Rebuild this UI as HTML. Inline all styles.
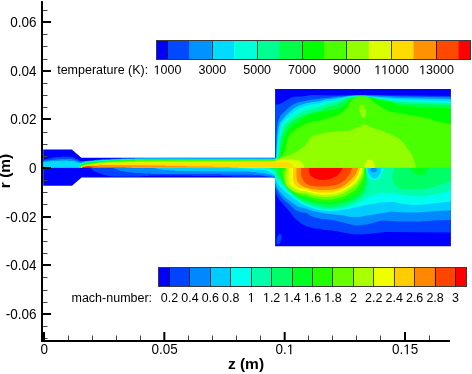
<!DOCTYPE html>
<html><head><meta charset="utf-8"><style>
html,body{margin:0;padding:0;background:#fff;}
body{width:472px;height:374px;overflow:hidden;}
svg{display:block;will-change:transform;}
text{font-family:"Liberation Sans",sans-serif;fill:#000;opacity:0.999;}
.tk{font-size:13.5px;}
.lg{font-size:12.5px;}
.ax{font-size:15.5px;font-weight:bold;}
</style></head><body>
<svg width="472" height="374" viewBox="0 0 472 374">
<rect width="472" height="374" fill="#fff"/>
<g id="contour">
<defs><clipPath id="cUP"><path d="M43.2 167.7L43.2 149.6L71.8 149.6L81.4 157.7L275.1 157.7L275.1 167.7Z"/></clipPath><clipPath id="cUC"><path d="M275.1 88.9L450.9 88.9L450.9 167.7L275.1 167.7Z"/></clipPath><clipPath id="cLP"><path d="M43.2 166.7L275.1 166.7L275.1 177.6L81.6 177.6L72 185.7L43.2 185.7Z"/></clipPath><clipPath id="cLC"><path d="M275.1 166.7L450.9 166.7L450.9 246.3L275.1 246.3Z"/></clipPath></defs>
<g clip-path="url(#cLP)"><path d="M40.1 165.1L40.1 187.9L279.9 187.9L279.9 165.1Z" fill="#0000ff" fill-rule="evenodd"/>
<path d="M90.4 165.1L90.4 167.6L90.9 168.6L94.6 171.6L101.1 174.1L102.9 174.4L104.6 175.1L105.6 175.1L108.1 176.1L113.1 176.4L113.4 176.6L134.9 176.6L135.1 176.4L140.4 176.4L140.6 176.1L148.9 175.9L149.1 175.6L191.9 175.6L192.1 175.9L213.4 175.9L213.6 176.1L231.6 176.1L231.9 176.4L259.4 176.4L259.6 176.6L265.6 176.6L265.9 176.9L271.1 177.1L273.6 177.6L276.1 178.6L276.1 165.1Z" fill="#0044ff" fill-rule="evenodd"/>
<path d="M112.4 165.4L112.4 167.6L115.4 169.1L116.1 169.1L120.6 170.9L122.1 170.9L123.1 171.4L125.9 171.6L126.1 171.9L133.4 172.4L135.1 172.9L142.1 173.1L144.4 173.6L151.4 173.6L151.6 173.9L195.1 173.9L195.4 174.1L221.1 174.1L221.4 174.4L252.9 174.6L253.1 174.9L257.6 174.9L257.9 175.1L262.6 175.4L265.1 175.9L267.9 175.9L269.1 176.4L271.4 176.6L272.4 177.1L273.6 177.1L276.1 178.1L276.1 165.1L112.6 165.1Z" fill="#0088ff" fill-rule="evenodd"/>
<path d="M153.9 166.4L154.1 167.6L157.4 168.9L159.1 168.9L160.4 169.4L162.4 169.4L163.9 169.9L169.4 170.1L169.6 170.4L174.6 170.6L174.9 170.9L179.4 170.9L179.6 171.1L234.6 171.4L234.9 171.6L249.1 171.6L249.4 171.9L256.1 172.1L256.4 172.4L258.9 172.4L260.4 172.9L262.6 172.9L264.1 173.4L266.1 173.4L267.1 173.9L271.4 174.9L276.1 177.1L276.1 165.1L154.4 165.1Z" fill="#00ccff" fill-rule="evenodd"/>
<path d="M216.1 166.4L216.1 167.4L217.9 168.1L239.4 168.4L239.6 168.6L252.4 169.1L254.4 169.6L263.4 170.1L267.4 170.9L269.1 171.9L269.6 171.9L272.6 173.4L276.1 176.1L276.1 165.1L216.9 165.1Z" fill="#00ffee" fill-rule="evenodd"/>
<path d="M261.9 165.1L261.6 167.4L262.1 167.9L264.6 168.1L264.9 168.4L267.4 168.4L268.6 168.9L269.6 168.9L270.1 169.4L270.9 169.4L273.6 171.1L276.1 174.1L276.1 165.1Z" fill="#00ffaa" fill-rule="evenodd"/>
<path d="M268.9 165.1L268.9 167.6L269.4 168.1L271.6 168.4L274.1 169.6L276.1 172.1L276.1 165.1Z" fill="#00ff66" fill-rule="evenodd"/></g>
<g clip-path="url(#cLC)"><path d="M272.1 164.1L272.1 248.9L453.9 248.9L453.9 164.1Z" fill="#0000ff" fill-rule="evenodd"/>
<path d="M280.6 233.9L279.1 234.1L277.9 235.6L276.6 239.1L276.4 242.1L276.6 243.6L277.4 244.4L278.6 244.4L279.6 243.4L281.4 239.1L281.6 235.9ZM272.1 164.9L272.1 191.4L274.1 191.1L275.4 191.9L277.4 196.9L278.9 199.4L289.1 211.1L294.4 217.9L300.9 223.4L306.9 226.4L314.6 228.4L320.4 228.9L324.6 229.9L331.9 230.6L354.4 234.4L368.6 233.9L385.1 232.1L451.4 232.4L452.9 233.4L453.9 235.1L453.9 164.9L427.9 164.9L427.1 164.1L413.1 164.1L412.4 164.9L383.1 164.9L382.6 164.1L366.4 164.1L365.9 164.9Z" fill="#0044ff" fill-rule="evenodd"/>
<path d="M272.1 164.9L272.1 186.4L274.6 186.6L275.9 187.9L277.9 192.4L282.1 198.1L284.4 200.4L287.9 202.9L295.1 209.9L301.6 212.4L306.4 213.1L310.1 215.6L313.6 216.9L321.9 218.9L325.6 218.9L337.4 220.9L352.9 225.1L356.1 225.4L366.9 224.4L381.9 220.6L392.1 220.9L400.1 221.6L419.6 221.6L432.9 220.6L451.6 220.1L452.4 220.4L453.9 222.4L453.9 164.9L427.9 164.9L427.1 164.1L413.1 164.1L412.4 164.9L383.1 164.9L382.6 164.1L366.4 164.1L365.9 164.9Z" fill="#0088ff" fill-rule="evenodd"/>
<path d="M272.1 164.9L272.1 182.1L274.1 182.4L275.9 183.9L276.9 186.9L278.9 190.6L282.1 194.6L285.1 197.6L297.4 206.4L305.6 208.4L312.6 210.9L325.1 213.4L343.4 215.4L351.1 217.1L359.4 217.1L367.4 215.4L374.1 214.6L391.9 211.4L403.6 212.4L416.1 212.4L451.6 210.1L453.1 210.6L453.9 211.6L453.9 164.9L427.9 164.9L427.1 164.1L413.1 164.1L412.4 164.9L383.1 164.9L382.6 164.1L366.4 164.1L365.9 164.9ZM370.6 168.6L372.1 167.4L374.6 167.1L376.6 168.6L376.9 170.4L375.4 172.1L372.9 172.4L370.6 170.9Z" fill="#00ccff" fill-rule="evenodd"/>
<path d="M272.1 164.9L272.1 177.9L274.6 178.6L275.9 179.9L277.1 182.6L279.4 185.9L284.9 191.4L300.6 203.4L309.1 207.1L318.1 209.9L329.4 211.1L338.6 210.6L347.6 209.1L368.9 204.4L374.1 203.9L379.9 202.6L388.9 201.9L393.9 202.1L400.6 203.6L412.6 204.9L424.6 204.6L450.4 201.6L452.6 201.9L453.9 202.9L453.9 164.9L427.9 164.9L427.1 164.1L413.1 164.1L412.4 164.9L383.1 164.9L382.6 164.1L380.9 164.1L381.4 165.9L380.9 172.1L378.9 176.1L377.6 177.4L375.6 178.4L373.4 178.4L371.1 177.1L369.4 174.9L367.6 169.9L367.6 165.9L368.1 164.1L366.4 164.1L365.9 164.9Z" fill="#00ffee" fill-rule="evenodd"/>
<path d="M453.9 191.4L453.9 164.9L427.9 164.9L427.1 164.1L413.1 164.1L412.4 164.9L383.1 164.9L383.4 170.1L381.1 176.4L378.4 179.4L375.1 180.6L371.1 179.6L367.9 176.4L365.9 171.4L365.9 164.9L272.1 164.9L272.1 173.9L273.9 174.9L276.6 178.1L277.6 178.4L287.9 190.9L294.6 197.1L300.1 201.1L303.4 202.9L311.4 205.9L322.6 208.9L334.6 209.1L340.6 208.4L346.6 206.9L358.1 202.4L371.9 195.1L380.9 192.4L392.6 192.9L407.4 196.1L423.4 196.4L435.4 194.6L450.6 190.6L452.6 190.6Z" fill="#00ffaa" fill-rule="evenodd"/>
<path d="M274.1 164.9L275.6 173.1L276.4 174.9L281.6 181.1L286.9 188.4L298.6 198.9L305.9 202.6L314.6 205.4L323.9 207.1L330.4 207.4L338.6 206.6L344.6 205.1L352.4 202.1L360.4 197.9L363.1 195.4L366.4 189.6L367.4 184.4L367.4 175.1L365.9 171.4L365.9 164.9ZM394.1 164.9L394.1 168.4L392.6 174.4L392.6 178.9L393.4 182.6L394.4 184.9L395.6 186.1L401.9 189.1L420.9 189.4L427.4 188.6L441.4 184.6L450.9 181.1L453.9 181.1L453.9 164.9L427.9 164.9L427.1 164.1L413.1 164.1L412.4 164.9Z" fill="#00ff66" fill-rule="evenodd"/>
<path d="M277.6 167.6L278.1 172.9L284.4 184.4L289.1 190.1L295.1 194.9L300.1 197.9L310.9 201.9L320.4 204.1L329.1 204.9L335.6 204.4L344.1 202.4L351.4 199.4L357.6 195.9L361.1 192.9L363.4 189.6L365.4 183.6L366.4 172.4L365.6 168.6L365.9 165.6L364.1 164.9L286.1 164.9ZM411.6 166.6L411.6 169.1L413.1 171.9L414.4 173.1L418.6 174.9L421.6 174.9L425.1 173.6L427.1 171.9L428.6 168.9L428.6 166.6L427.1 164.1L413.1 164.1Z" fill="#00ff22" fill-rule="evenodd"/>
<path d="M280.6 170.1L280.6 172.1L281.9 175.4L282.1 177.4L285.4 185.1L289.4 189.6L293.9 192.9L300.9 196.4L303.6 196.9L313.1 200.1L322.6 201.9L330.4 202.1L337.9 201.1L345.9 198.6L353.6 194.6L359.1 190.4L362.4 184.9L364.1 179.9L365.1 174.1L365.4 166.6L363.6 164.9L286.6 164.9Z" fill="#22ff00" fill-rule="evenodd"/>
<path d="M284.1 179.9L285.9 185.1L288.6 188.4L293.9 191.9L298.4 193.9L302.1 194.9L304.1 194.9L313.6 197.9L322.6 199.4L331.4 199.4L338.6 198.1L343.9 196.4L349.6 193.4L355.6 189.4L359.9 184.1L362.9 178.1L364.1 172.4L364.4 167.1L363.6 164.9L286.6 164.9L286.1 166.9L283.4 171.9Z" fill="#66ff00" fill-rule="evenodd"/>
<path d="M285.4 182.9L286.9 186.1L290.1 189.1L294.4 191.4L297.4 192.4L306.4 193.4L312.6 195.4L322.4 196.9L330.6 196.9L338.4 195.4L342.6 193.9L349.9 189.6L354.9 185.9L358.1 182.4L361.1 178.1L362.4 175.1L363.6 168.9L363.6 164.9L286.6 164.9L286.6 167.9L285.1 176.9Z" fill="#aaff00" fill-rule="evenodd"/>
<path d="M288.4 179.9L288.9 182.4L290.1 184.9L293.9 188.1L299.1 190.4L306.4 191.4L311.6 193.1L317.4 194.4L322.4 194.9L332.6 194.6L340.4 192.6L346.4 189.4L353.4 184.4L357.1 180.4L361.4 173.4L362.1 170.6L362.4 164.9L289.1 164.9Z" fill="#eeff00" fill-rule="evenodd"/>
<path d="M292.9 179.1L293.4 181.6L295.1 184.9L299.4 188.1L305.9 189.1L312.6 191.4L317.9 192.4L331.6 192.4L340.4 190.1L346.4 186.9L351.9 182.9L354.9 179.9L358.1 174.6L360.1 168.6L360.1 164.9L293.1 164.9Z" fill="#ffcc00" fill-rule="evenodd"/>
<path d="M296.9 179.9L297.9 182.1L300.4 184.9L304.1 186.9L311.1 188.9L319.4 190.1L329.6 190.1L337.1 188.9L340.9 187.4L345.6 184.6L351.4 179.4L355.6 174.4L357.1 171.6L358.1 167.9L358.1 164.9L296.6 164.9L296.4 175.6Z" fill="#ff8800" fill-rule="evenodd"/>
<path d="M301.1 175.6L303.6 181.1L306.1 183.6L309.9 185.4L317.6 186.6L326.4 186.6L336.1 184.9L340.9 182.9L345.6 179.4L349.9 173.9L352.4 167.4L352.1 164.9L301.1 164.9Z" fill="#ff4400" fill-rule="evenodd"/>
<path d="M308.9 164.9L309.1 171.6L309.6 173.9L310.6 175.4L312.6 177.1L316.1 178.9L322.1 179.9L328.4 179.6L331.6 178.6L337.6 175.4L339.9 173.1L341.9 170.1L342.6 167.9L342.6 164.9Z" fill="#ff0000" fill-rule="evenodd"/></g>
<g clip-path="url(#cUP)"><path d="M40.1 148.1L40.1 169.9L279.9 169.9L279.9 148.1Z" fill="#0000ff" fill-rule="evenodd"/>
<path d="M40.1 160.4L40.1 169.9L279.9 169.9L279.9 158.1L138.9 157.9L138.6 158.1L126.9 158.1L126.6 158.4L118.9 158.4L118.6 158.6L103.1 159.1L102.9 159.4L97.4 159.6L93.6 160.4L90.9 160.4L90.6 160.6L87.9 160.6L87.6 160.9L84.9 160.9L84.6 161.1L80.9 161.1L79.4 160.6L76.9 159.1L76.4 159.1L74.6 157.9L73.1 157.6L72.4 157.1L62.1 156.6L61.9 156.9L58.9 156.9L58.6 157.1L52.6 157.6L50.4 158.4L49.1 158.4L47.1 159.1L46.1 159.1L45.4 159.6L44.4 159.6L43.1 160.1Z" fill="#0049ff" fill-rule="evenodd"/>
<path d="M40.1 161.1L40.1 169.9L279.9 169.9L279.9 158.4L143.1 158.1L142.9 158.4L129.4 158.4L129.1 158.6L121.6 158.6L121.4 158.9L105.4 159.4L105.1 159.6L101.1 159.6L100.9 159.9L95.9 160.1L93.6 160.6L87.9 160.9L87.6 161.1L85.6 161.1L83.6 161.6L79.1 161.4L75.1 159.9L71.6 159.1L62.4 158.9L62.1 159.1L56.6 159.4L56.4 159.6L47.1 160.4L46.9 160.6L44.9 160.6L42.4 161.1Z" fill="#0092ff" fill-rule="evenodd"/>
<path d="M40.1 162.4L40.1 169.9L279.9 169.9L279.9 158.6L135.1 158.6L134.9 158.9L113.1 159.4L112.9 159.6L110.4 159.6L110.1 159.9L105.4 159.9L105.1 160.1L93.9 160.6L93.6 160.9L86.4 161.4L81.6 162.9L78.9 162.9L75.9 161.6L74.6 161.6L73.4 161.1L71.6 161.1L71.4 160.9L67.9 160.9L67.6 160.6L53.6 160.9L53.4 161.1L50.6 161.1L50.4 161.4Z" fill="#00dbff" fill-rule="evenodd"/>
<path d="M79.4 165.6L79.4 169.9L279.9 169.9L279.9 158.9L135.1 158.9L134.9 159.1L126.9 159.1L126.6 159.4L121.6 159.4L121.4 159.6L110.4 159.9L110.1 160.1L107.9 160.1L107.6 160.4L98.4 160.6L98.1 160.9L91.9 161.1L89.6 161.6L86.9 161.6L83.1 162.6L80.9 163.6Z" fill="#00ffdb" fill-rule="evenodd"/>
<path d="M79.6 165.9L79.6 169.9L279.9 169.9L279.9 159.1L135.1 159.1L134.9 159.4L129.4 159.4L129.1 159.6L110.4 160.1L110.1 160.4L107.9 160.4L107.6 160.6L103.1 160.6L102.9 160.9L93.1 161.4L89.1 162.1L87.1 162.1L83.4 163.4L82.6 163.4L81.1 164.1Z" fill="#00ff92" fill-rule="evenodd"/>
<path d="M79.9 166.4L79.9 169.9L279.9 169.9L279.9 159.6L188.1 159.6L187.9 159.4L138.9 159.4L138.6 159.6L129.4 159.6L129.1 159.9L107.9 160.6L107.6 160.9L103.1 160.9L102.9 161.1L93.1 161.6L91.4 162.1L89.9 162.1L89.1 162.6L87.6 162.6L84.4 163.6L83.4 163.6L81.4 164.6Z" fill="#00ff49" fill-rule="evenodd"/>
<path d="M80.1 166.9L80.1 169.9L279.9 169.9L279.9 159.9L143.1 159.6L142.9 159.9L124.4 160.1L124.1 160.4L107.9 160.9L107.6 161.1L105.4 161.1L105.1 161.4L94.6 161.9L89.4 163.1L85.1 163.6L83.4 164.4L82.6 164.4L81.4 165.1L80.4 166.1Z" fill="#00ff00" fill-rule="evenodd"/>
<path d="M80.4 167.1L80.4 169.9L279.9 169.9L279.9 160.1L135.1 160.1L134.9 160.4L129.4 160.4L129.1 160.6L121.6 160.6L121.4 160.9L105.6 161.4L103.1 161.9L99.4 161.9L97.6 162.4L94.9 162.4L92.4 163.1L89.1 163.4L84.4 164.4L81.1 165.9Z" fill="#49ff00" fill-rule="evenodd"/>
<path d="M80.6 169.1L80.6 169.9L279.9 169.9L279.9 161.1L138.9 160.9L138.6 161.1L121.6 161.4L121.4 161.6L116.1 161.6L115.9 161.9L108.1 161.9L107.9 162.1L105.6 162.1L105.4 162.4L101.4 162.4L101.1 162.6L95.9 162.9L94.6 163.4L84.4 164.9L81.6 165.9L80.9 166.6L80.9 168.9Z" fill="#92ff00" fill-rule="evenodd"/>
<path d="M279.9 161.6L132.1 161.9L131.9 162.1L124.4 162.1L124.1 162.4L107.9 162.6L107.6 162.9L103.1 162.9L102.9 163.1L97.4 163.4L95.1 164.1L87.1 164.9L83.4 165.6L81.1 166.9L81.1 169.9L279.9 169.9Z" fill="#dbff00" fill-rule="evenodd"/>
<path d="M279.9 162.1L242.1 162.1L241.9 162.4L196.9 162.6L196.6 162.9L143.1 162.6L142.9 162.9L129.4 162.9L129.1 163.1L99.6 163.6L99.4 163.9L97.6 163.9L95.9 164.6L85.9 165.6L81.6 166.6L81.4 166.9L81.4 169.9L279.9 169.9Z" fill="#ffdb00" fill-rule="evenodd"/>
<path d="M81.6 167.4L81.6 169.9L242.6 169.9L241.6 168.9L238.1 167.6L230.9 167.4L230.6 167.1L213.4 166.9L213.1 166.6L200.9 166.6L200.6 166.4L187.1 166.4L186.9 166.1L173.9 166.1L173.6 165.9L165.9 165.9L165.6 165.6L160.1 165.6L159.9 165.4L98.9 165.1L98.6 165.4L93.1 165.4L92.9 165.6L85.4 166.1L81.9 166.9Z" fill="#ff9200" fill-rule="evenodd"/>
<path d="M81.9 167.6L81.9 169.9L137.4 169.9L130.9 167.6L125.9 167.4L125.6 167.1L108.6 167.1L108.4 166.9L98.1 166.9L97.9 166.6L85.1 166.6L84.9 166.9L82.1 167.1Z" fill="#ff4900" fill-rule="evenodd"/>
<path d="M82.4 167.9L82.4 169.9L92.9 169.9L92.9 168.4L92.4 167.4L89.9 166.6L86.1 166.6L85.9 166.9L82.6 167.1Z" fill="#ff0000" fill-rule="evenodd"/></g>
<g clip-path="url(#cUC)"><path d="M272.1 86.1L272.1 169.9L453.9 169.9L453.9 86.1Z" fill="#0000ff" fill-rule="evenodd"/>
<path d="M272.1 104.4L272.1 169.9L453.9 169.9L453.9 96.1L375.9 94.9L354.1 94.9L334.1 95.6L311.4 95.1L301.9 96.4L296.1 96.6L291.6 97.6L279.6 103.9L277.6 104.4Z" fill="#0049ff" fill-rule="evenodd"/>
<path d="M278.1 121.6L277.4 124.9L276.4 135.4L275.9 157.4L275.4 158.1L272.1 158.6L272.1 169.9L453.9 169.9L453.9 97.4L401.1 96.6L360.1 95.1L332.9 97.1L331.4 97.6L312.1 99.6L297.4 102.4L291.4 105.4L286.1 109.9L281.1 115.1L279.6 117.4Z" fill="#0092ff" fill-rule="evenodd"/>
<path d="M272.1 158.9L272.1 169.9L453.9 169.9L453.9 99.1L396.4 97.9L367.4 96.1L364.9 95.6L355.9 95.6L346.6 96.4L340.9 97.6L338.4 97.6L334.1 98.6L325.1 99.6L320.6 100.9L306.9 102.9L299.1 105.6L293.6 108.4L286.4 115.1L280.1 122.6L278.6 127.4L277.4 135.4L276.1 157.9Z" fill="#00dbff" fill-rule="evenodd"/>
<path d="M272.1 159.1L272.1 169.9L453.9 169.9L453.9 101.4L398.6 99.6L377.6 98.1L368.6 96.6L366.1 96.6L364.9 96.1L358.1 95.9L348.9 96.6L336.9 99.9L324.1 102.1L319.9 103.6L309.1 105.1L304.6 106.4L299.1 108.6L294.4 111.4L290.9 114.1L282.9 121.9L281.9 123.4L280.4 127.9L277.9 142.4L276.9 158.4Z" fill="#00ffdb" fill-rule="evenodd"/>
<path d="M272.1 159.4L272.1 169.9L453.9 169.9L453.9 103.4L406.1 101.9L388.1 100.1L364.9 96.4L358.1 96.1L351.9 96.6L346.9 97.6L336.4 101.6L327.9 103.4L317.6 107.4L308.1 109.4L299.6 112.9L292.1 117.9L284.6 124.4L283.1 126.9L280.4 135.4L279.1 142.1L277.9 157.4L277.1 158.6Z" fill="#00ff92" fill-rule="evenodd"/>
<path d="M272.1 159.6L272.1 169.9L453.9 169.9L453.9 104.9L406.1 104.1L392.6 102.4L387.1 100.9L379.6 99.6L370.4 97.1L364.4 96.4L350.6 96.9L346.4 98.6L340.9 102.6L336.6 104.9L329.1 106.6L324.4 108.4L322.1 109.9L318.4 111.4L309.1 113.1L302.4 115.4L295.4 119.1L290.6 122.6L286.4 126.6L282.6 134.4L280.4 144.1L278.9 157.4L278.1 158.6Z" fill="#00ff49" fill-rule="evenodd"/>
<path d="M272.1 159.9L272.1 169.9L453.9 169.9L453.9 109.1L435.1 107.6L423.6 107.4L414.6 106.6L404.6 106.6L399.1 105.4L392.1 102.1L380.4 99.9L371.9 97.4L364.4 96.4L359.6 96.4L354.4 97.4L350.1 99.9L344.6 105.6L340.6 108.1L336.9 109.4L323.4 110.9L311.9 113.9L304.1 117.6L292.6 125.1L289.1 128.4L284.9 135.9L281.4 149.1L280.9 157.4L278.4 158.6L273.9 159.9Z" fill="#00ff00" fill-rule="evenodd"/>
<path d="M272.1 160.1L272.1 169.9L453.9 169.9L453.9 124.9L435.6 121.1L428.9 118.6L421.9 116.9L400.9 113.6L396.1 112.4L390.9 111.9L383.1 108.6L367.4 97.1L364.4 96.4L357.9 96.6L352.6 99.1L349.6 103.1L348.1 106.4L345.4 109.6L339.9 113.9L336.9 115.4L330.1 117.4L328.9 118.1L318.6 120.9L313.1 121.6L306.6 123.6L299.9 126.6L295.9 129.1L289.1 134.9L287.6 138.6L285.9 147.1L284.4 151.6L281.6 156.6L280.6 157.6L278.4 158.6Z" fill="#49ff00" fill-rule="evenodd"/>
<path d="M415.4 164.4L413.4 157.9L411.6 154.4L404.1 143.4L398.9 138.6L389.1 133.4L388.1 133.4L380.1 130.1L376.9 129.4L364.9 124.4L363.4 124.4L359.9 126.4L349.6 130.4L326.4 132.6L313.9 135.6L311.9 136.6L309.9 138.4L305.9 144.4L302.9 147.6L296.4 152.1L287.9 155.4L280.9 157.4L278.4 158.6L272.1 160.4L272.1 169.9L415.9 169.9ZM361.4 104.4L359.6 105.9L359.6 112.1L360.1 113.9L362.1 117.1L363.4 117.9L364.4 117.9L366.1 114.9L365.9 110.1L364.1 106.1L362.9 104.6Z" fill="#92ff00" fill-rule="evenodd"/>
<path d="M367.1 160.6L365.6 162.4L364.6 164.6L364.6 169.9L374.9 169.9L374.9 165.4L373.1 161.6L371.4 160.1L369.9 159.6ZM272.1 161.4L272.1 169.9L304.1 169.9L304.1 166.9L303.1 163.9L301.1 161.6L298.4 160.4L291.6 159.4L283.6 159.4L278.9 160.1L276.1 161.1Z" fill="#dbff00" fill-rule="evenodd"/>
<path d="M272.1 161.9L272.1 169.9L293.6 169.9L293.4 166.1L292.4 164.4L290.4 162.9L286.4 161.9Z" fill="#ffdb00" fill-rule="evenodd"/></g>
</g>
<g id="axes" fill="#000">
<rect x="41" y="1" width="2" height="340.7" rx="0.5"/>
<rect x="41" y="340" width="409" height="2" rx="0.5"/>
<rect x="43" y="21" width="8" height="2"/>
<rect x="43" y="70" width="8" height="2"/>
<rect x="43" y="118" width="8" height="2"/>
<rect x="43" y="167" width="8" height="2"/>
<rect x="43" y="216" width="8" height="2"/>
<rect x="43" y="264" width="8" height="2"/>
<rect x="43" y="313" width="8" height="2"/>
<rect x="43" y="10" width="4.5" height="1" fill="#444"/>
<rect x="43" y="34" width="4.5" height="1" fill="#444"/>
<rect x="43" y="46" width="4.5" height="1" fill="#444"/>
<rect x="43" y="59" width="4.5" height="1" fill="#444"/>
<rect x="43" y="83" width="4.5" height="1" fill="#444"/>
<rect x="43" y="95" width="4.5" height="1" fill="#444"/>
<rect x="43" y="107" width="4.5" height="1" fill="#444"/>
<rect x="43" y="132" width="4.5" height="1" fill="#444"/>
<rect x="43" y="144" width="4.5" height="1" fill="#444"/>
<rect x="43" y="156" width="4.5" height="1" fill="#444"/>
<rect x="43" y="180" width="4.5" height="1" fill="#444"/>
<rect x="43" y="192" width="4.5" height="1" fill="#444"/>
<rect x="43" y="204" width="4.5" height="1" fill="#444"/>
<rect x="43" y="229" width="4.5" height="1" fill="#444"/>
<rect x="43" y="241" width="4.5" height="1" fill="#444"/>
<rect x="43" y="253" width="4.5" height="1" fill="#444"/>
<rect x="43" y="277" width="4.5" height="1" fill="#444"/>
<rect x="43" y="290" width="4.5" height="1" fill="#444"/>
<rect x="43" y="302" width="4.5" height="1" fill="#444"/>
<rect x="43" y="326" width="4.5" height="1" fill="#444"/>
<rect x="43" y="338" width="4.5" height="1" fill="#444"/>
<rect x="43" y="332" width="2" height="8"/>
<rect x="163.33" y="332" width="2" height="8"/>
<rect x="283.67" y="332" width="2" height="8"/>
<rect x="404" y="332" width="2" height="8"/>
<rect x="68" y="335.5" width="1" height="4.5" fill="#444"/>
<rect x="92" y="335.5" width="1" height="4.5" fill="#444"/>
<rect x="116" y="335.5" width="1" height="4.5" fill="#444"/>
<rect x="140" y="335.5" width="1" height="4.5" fill="#444"/>
<rect x="188" y="335.5" width="1" height="4.5" fill="#444"/>
<rect x="212" y="335.5" width="1" height="4.5" fill="#444"/>
<rect x="236" y="335.5" width="1" height="4.5" fill="#444"/>
<rect x="260" y="335.5" width="1" height="4.5" fill="#444"/>
<rect x="308" y="335.5" width="1" height="4.5" fill="#444"/>
<rect x="332" y="335.5" width="1" height="4.5" fill="#444"/>
<rect x="356" y="335.5" width="1" height="4.5" fill="#444"/>
<rect x="380" y="335.5" width="1" height="4.5" fill="#444"/>
<rect x="429" y="335.5" width="1" height="4.5" fill="#444"/>

</g>
<g transform="translate(10.33,27.20) scale(1,1.035)"><text x="0" y="0" class="tk">0.06</text></g>
<g transform="translate(10.33,75.80) scale(1,1.035)"><text x="0" y="0" class="tk">0.04</text></g>
<g transform="translate(10.33,124.40) scale(1,1.035)"><text x="0" y="0" class="tk">0.02</text></g>
<g transform="translate(29.09,173.00) scale(1,1.035)"><text x="0" y="0" class="tk">0</text></g>
<g transform="translate(5.83,221.60) scale(1,1.035)"><text x="0" y="0" class="tk">-0.02</text></g>
<g transform="translate(5.83,270.20) scale(1,1.035)"><text x="0" y="0" class="tk">-0.04</text></g>
<g transform="translate(5.83,318.80) scale(1,1.035)"><text x="0" y="0" class="tk">-0.06</text></g>
<g transform="translate(40.45,354.20) scale(1,1.035)"><text x="0" y="0" class="tk">0</text></g>
<g transform="translate(151.40,354.20) scale(1,1.035)"><text x="0" y="0" class="tk">0.05</text></g>
<g transform="translate(275.48,354.20) scale(1,1.035)"><text x="0" y="0" class="tk">0. </text><path d="M515 0L515 1237L197 1010L197 1180L530 1409L696 1409L696 0Z" transform="translate(11.26,0) scale(0.006592,-0.006592)"/></g>
<g transform="translate(392.06,354.20) scale(1,1.035)"><text x="0" y="0" class="tk">0. 5</text><path d="M515 0L515 1237L197 1010L197 1180L530 1409L696 1409L696 0Z" transform="translate(11.26,0) scale(0.006592,-0.006592)"/></g>
<text x="0" y="0" class="ax" transform="translate(9.9,188.2) rotate(-90)">r (m)</text>
<text x="227.9" y="368.9" class="ax">z (m)</text>
<g id="bars">
<rect x="157" y="41" width="10.4" height="18" fill="#0000ff"/>
<rect x="167" y="41" width="22.8" height="18" fill="#0049ff"/>
<rect x="189.4" y="41" width="22.8" height="18" fill="#0092ff"/>
<rect x="211.8" y="41" width="22.8" height="18" fill="#00dbff"/>
<rect x="234.2" y="41" width="22.8" height="18" fill="#00ffdb"/>
<rect x="256.7" y="41" width="22.8" height="18" fill="#00ff92"/>
<rect x="279.1" y="41" width="22.8" height="18" fill="#00ff49"/>
<rect x="301.5" y="41" width="22.8" height="18" fill="#00ff00"/>
<rect x="323.9" y="41" width="22.8" height="18" fill="#49ff00"/>
<rect x="346.3" y="41" width="22.8" height="18" fill="#92ff00"/>
<rect x="368.8" y="41" width="22.8" height="18" fill="#dbff00"/>
<rect x="391.2" y="41" width="22.8" height="18" fill="#ffdb00"/>
<rect x="413.6" y="41" width="22.8" height="18" fill="#ff9200"/>
<rect x="436" y="41" width="22.8" height="18" fill="#ff4900"/>
<rect x="458.4" y="41" width="12" height="18" fill="#ff0000"/>
<rect x="167" y="41" width="1" height="18" fill="#000" fill-opacity="0.7"/>
<rect x="212" y="41" width="1" height="18" fill="#000" fill-opacity="0.7"/>
<rect x="257" y="41" width="1" height="18" fill="#000" fill-opacity="0.7"/>
<rect x="302" y="41" width="1" height="18" fill="#000" fill-opacity="0.7"/>
<rect x="346" y="41" width="1" height="18" fill="#000" fill-opacity="0.7"/>
<rect x="391" y="41" width="1" height="18" fill="#000" fill-opacity="0.7"/>
<rect x="436" y="41" width="1" height="18" fill="#000" fill-opacity="0.7"/>
<rect x="156.5" y="40.5" width="314" height="19" fill="none" stroke="#3a3a3a" stroke-width="1"/>
<g transform="translate(153.60,74.30) scale(1,1.035)"><text x="0" y="0" class="lg"> 000</text><path d="M515 0L515 1237L197 1010L197 1180L530 1409L696 1409L696 0Z" transform="translate(0.00,0) scale(0.006104,-0.006104)"/></g>
<g transform="translate(198.43,74.30) scale(1,1.035)"><text x="0" y="0" class="lg">3000</text></g>
<g transform="translate(243.26,74.30) scale(1,1.035)"><text x="0" y="0" class="lg">5000</text></g>
<g transform="translate(288.10,74.30) scale(1,1.035)"><text x="0" y="0" class="lg">7000</text></g>
<g transform="translate(332.93,74.30) scale(1,1.035)"><text x="0" y="0" class="lg">9000</text></g>
<g transform="translate(374.29,74.30) scale(1,1.035)"><text x="0" y="0" class="lg">  000</text><path d="M515 0L515 1237L197 1010L197 1180L530 1409L696 1409L696 0Z" transform="translate(0.00,0) scale(0.006104,-0.006104)"/><path d="M515 0L515 1237L197 1010L197 1180L530 1409L696 1409L696 0Z" transform="translate(6.95,0) scale(0.006104,-0.006104)"/></g>
<g transform="translate(419.12,74.30) scale(1,1.035)"><text x="0" y="0" class="lg"> 3000</text><path d="M515 0L515 1237L197 1010L197 1180L530 1409L696 1409L696 0Z" transform="translate(0.00,0) scale(0.006104,-0.006104)"/></g>
<rect x="159" y="268" width="10.4" height="18" fill="#0000ff"/>
<rect x="169" y="268" width="20.8" height="18" fill="#0044ff"/>
<rect x="189.4" y="268" width="20.8" height="18" fill="#0088ff"/>
<rect x="209.9" y="268" width="20.8" height="18" fill="#00ccff"/>
<rect x="230.3" y="268" width="20.8" height="18" fill="#00ffee"/>
<rect x="250.7" y="268" width="20.8" height="18" fill="#00ffaa"/>
<rect x="271.1" y="268" width="20.8" height="18" fill="#00ff66"/>
<rect x="291.6" y="268" width="20.8" height="18" fill="#00ff22"/>
<rect x="312" y="268" width="20.8" height="18" fill="#22ff00"/>
<rect x="332.4" y="268" width="20.8" height="18" fill="#66ff00"/>
<rect x="352.9" y="268" width="20.8" height="18" fill="#aaff00"/>
<rect x="373.3" y="268" width="20.8" height="18" fill="#eeff00"/>
<rect x="393.7" y="268" width="20.8" height="18" fill="#ffcc00"/>
<rect x="414.1" y="268" width="20.8" height="18" fill="#ff8800"/>
<rect x="434.6" y="268" width="20.8" height="18" fill="#ff4400"/>
<rect x="455" y="268" width="11.4" height="18" fill="#ff0000"/>
<rect x="169" y="268" width="1" height="18" fill="#000" fill-opacity="0.7"/>
<rect x="189" y="268" width="1" height="18" fill="#000" fill-opacity="0.7"/>
<rect x="210" y="268" width="1" height="18" fill="#000" fill-opacity="0.7"/>
<rect x="230" y="268" width="1" height="18" fill="#000" fill-opacity="0.7"/>
<rect x="251" y="268" width="1" height="18" fill="#000" fill-opacity="0.7"/>
<rect x="271" y="268" width="1" height="18" fill="#000" fill-opacity="0.7"/>
<rect x="292" y="268" width="1" height="18" fill="#000" fill-opacity="0.7"/>
<rect x="312" y="268" width="1" height="18" fill="#000" fill-opacity="0.7"/>
<rect x="332" y="268" width="1" height="18" fill="#000" fill-opacity="0.7"/>
<rect x="353" y="268" width="1" height="18" fill="#000" fill-opacity="0.7"/>
<rect x="373" y="268" width="1" height="18" fill="#000" fill-opacity="0.7"/>
<rect x="394" y="268" width="1" height="18" fill="#000" fill-opacity="0.7"/>
<rect x="414" y="268" width="1" height="18" fill="#000" fill-opacity="0.7"/>
<rect x="435" y="268" width="1" height="18" fill="#000" fill-opacity="0.7"/>
<rect x="455" y="268" width="1" height="18" fill="#000" fill-opacity="0.7"/>
<rect x="158.5" y="267.5" width="308" height="19" fill="none" stroke="#3a3a3a" stroke-width="1"/>
<g transform="translate(160.81,301.90) scale(1,1.035)"><text x="0" y="0" class="lg">0.2</text></g>
<g transform="translate(181.24,301.90) scale(1,1.035)"><text x="0" y="0" class="lg">0.4</text></g>
<g transform="translate(201.67,301.90) scale(1,1.035)"><text x="0" y="0" class="lg">0.6</text></g>
<g transform="translate(222.10,301.90) scale(1,1.035)"><text x="0" y="0" class="lg">0.8</text></g>
<g transform="translate(247.74,301.90) scale(1,1.035)"><text x="0" y="0" class="lg"> </text><path d="M515 0L515 1237L197 1010L197 1180L530 1409L696 1409L696 0Z" transform="translate(0.00,0) scale(0.006104,-0.006104)"/></g>
<g transform="translate(262.95,301.90) scale(1,1.035)"><text x="0" y="0" class="lg"> .2</text><path d="M515 0L515 1237L197 1010L197 1180L530 1409L696 1409L696 0Z" transform="translate(0.00,0) scale(0.006104,-0.006104)"/></g>
<g transform="translate(283.38,301.90) scale(1,1.035)"><text x="0" y="0" class="lg"> .4</text><path d="M515 0L515 1237L197 1010L197 1180L530 1409L696 1409L696 0Z" transform="translate(0.00,0) scale(0.006104,-0.006104)"/></g>
<g transform="translate(303.81,301.90) scale(1,1.035)"><text x="0" y="0" class="lg"> .6</text><path d="M515 0L515 1237L197 1010L197 1180L530 1409L696 1409L696 0Z" transform="translate(0.00,0) scale(0.006104,-0.006104)"/></g>
<g transform="translate(324.24,301.90) scale(1,1.035)"><text x="0" y="0" class="lg"> .8</text><path d="M515 0L515 1237L197 1010L197 1180L530 1409L696 1409L696 0Z" transform="translate(0.00,0) scale(0.006104,-0.006104)"/></g>
<g transform="translate(349.88,301.90) scale(1,1.035)"><text x="0" y="0" class="lg">2</text></g>
<g transform="translate(365.10,301.90) scale(1,1.035)"><text x="0" y="0" class="lg">2.2</text></g>
<g transform="translate(385.53,301.90) scale(1,1.035)"><text x="0" y="0" class="lg">2.4</text></g>
<g transform="translate(405.95,301.90) scale(1,1.035)"><text x="0" y="0" class="lg">2.6</text></g>
<g transform="translate(426.38,301.90) scale(1,1.035)"><text x="0" y="0" class="lg">2.8</text></g>
<g transform="translate(452.02,301.90) scale(1,1.035)"><text x="0" y="0" class="lg">3</text></g>

</g>
<text x="57.2" y="74.3" class="lg">temperature (K):</text>
<text x="71.5" y="301.9" class="lg">mach-number:</text>
</svg>
</body></html>
